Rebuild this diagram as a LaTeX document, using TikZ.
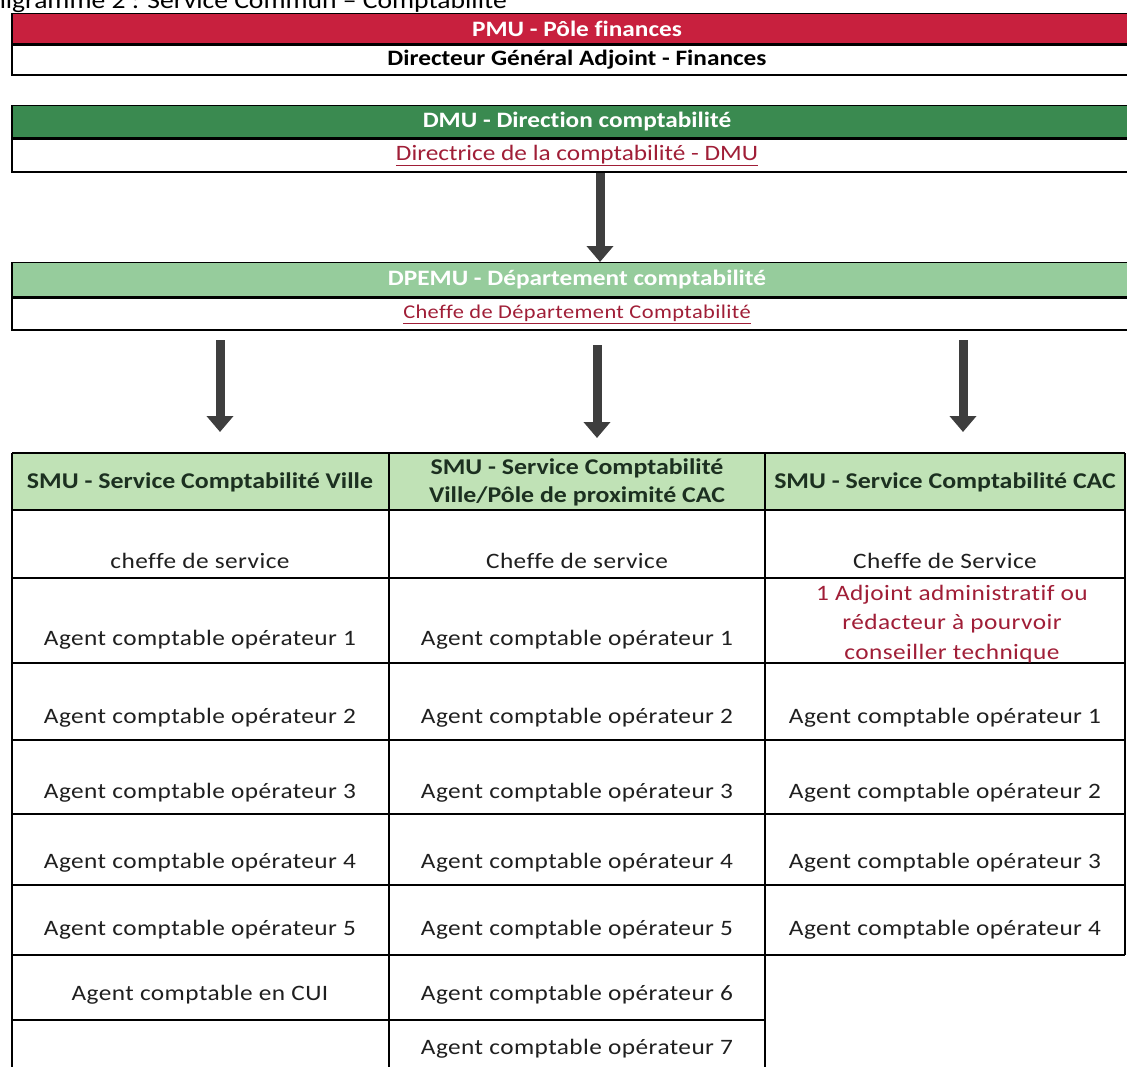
\documentclass[tikz,border=0pt]{standalone}
\usepackage{fontspec}
\setmainfont{Carlito}[FakeStretch=1.15, Ligatures=CommonOff]
\newfontfamily\espacee{Carlito}[FakeStretch=1.15, LetterSpace=2, Ligatures=CommonOff]
\usetikzlibrary{arrows.meta}

\definecolor{rougepmu}{RGB}{200,32,62}
\definecolor{vertdmu}{RGB}{58,138,80}
\definecolor{vertdpemu}{RGB}{150,204,156}
\definecolor{vertsmu}{RGB}{192,226,182}
\definecolor{rougetexte}{RGB}{160,30,55}
\definecolor{grisfleche}{RGB}{62,62,62}
\definecolor{texteentete}{RGB}{28,48,32}

\begin{document}
\begin{tikzpicture}[x=1pt, y=-1pt,
    barre/.style={draw=black, line width=1.4pt, minimum width=1130, inner sep=0pt, anchor=north},
    titrebarre/.style={font=\bfseries\fontsize{22}{24}\selectfont, text=white},
    responsable/.style={font=\fontsize{22}{24}\selectfont, text=rougetexte},
    fleche/.style={draw=grisfleche, line width=9pt, -{Triangle[width=26pt,length=16pt]}},
    entete/.style={font=\bfseries\fontsize{22.5}{28}\selectfont, text=texteentete, align=center},
    poste/.style={font=\espacee\fontsize{22}{24}\selectfont, text=black!88, anchor=base},
    posterouge/.style={font=\espacee\fontsize{22}{29.5}\selectfont, text=rougetexte, align=center}]

    \useasboundingbox (0,0) rectangle (1127,1066);
    \clip (0,0) rectangle (1127,1066);

    % Title of the page, cut at the top edge
    \node[anchor=base east, inner sep=0pt, font=\fontsize{24}{26}\selectfont] (titre) at (507,8)
        {Organigramme 2 : Service Commun – Comptabilité};

    % Pole finances
    \node[barre, fill=rougepmu, minimum height=30, titrebarre] (pmu) at (577,13) {PMU - Pôle finances};
    \node[barre, minimum height=30, font=\bfseries\fontsize{22}{24}\selectfont] (dga) at (pmu.south)
        {Directeur Général Adjoint - Finances};

    % Direction comptabilite
    \node[barre, fill=vertdmu, minimum height=32, titrebarre] (dmu) at (577,105) {DMU - Direction comptabilité};
    \node[barre, minimum height=33, responsable] (directrice) at (dmu.south)
        {\underline{Directrice de la comptabilité - DMU}};

    % Departement comptabilite
    \node[barre, fill=vertdpemu, minimum height=34, titrebarre] (dpemu) at (577,262) {DPEMU - Département comptabilité};
    \node[barre, minimum height=32, responsable, font=\espacee\fontsize{19.5}{22}\selectfont] (cheffedep) at (dpemu.south)
        {\underline{Cheffe de Département Comptabilité}};

    % Arrows
    \coordinate (f0) at (600,0);
    \draw[fleche] (directrice.south -| f0) -- (dpemu.north -| f0);

    \coordinate (f1h) at (220,340);  % left
    \coordinate (f1b) at (220,432);
    \coordinate (f2h) at (597,345);  % middle
    \coordinate (f2b) at (597,438);
    \coordinate (f3h) at (963,340);  % right
    \coordinate (f3b) at (963,432);
    \draw[fleche] (f1h) -- (f1b);
    \draw[fleche] (f2h) -- (f2b);
    \draw[fleche] (f3h) -- (f3b);

    % Table of the services: header row
    \fill[vertsmu] (12,453) rectangle (1125,510);
    \node[entete] (smu1) at (200,482) {SMU - Service Comptabilité Ville};
    \node[entete] (smu2) at (577,482) {SMU - Service Comptabilité\\Ville/Pôle de proximité CAC};
    \node[entete] (smu3) at (945,482) {SMU - Service Comptabilité CAC};

    % Table grid
    \draw[line width=1.4pt] (12,453) -- (1125,453);
    \draw[line width=1.4pt] (12,510) -- (1125,510);
    \draw[line width=1.4pt] (12,578) -- (1125,578);
    \draw[line width=1.4pt] (12,663) -- (1125,663);
    \draw[line width=1.4pt] (12,740) -- (1125,740);
    \draw[line width=1.4pt] (12,814) -- (1125,814);
    \draw[line width=1.4pt] (12,885) -- (1125,885);
    \draw[line width=1.4pt] (12,955) -- (1125,955);
    \draw[line width=1.4pt] (12,1020) -- (765,1020);
    \draw[line width=1.4pt] (12,453) -- (12,1070);
    \draw[line width=1.4pt] (389,453) -- (389,1070);
    \draw[line width=1.4pt] (765,453) -- (765,1070);
    \draw[line width=1.4pt] (1125,453) -- (1125,955);

    % Column 1
    \node[poste] (v0) at (200,568) {cheffe de service};
    \node[poste] (v1) at (200,645) {Agent comptable opérateur 1};
    \node[poste] (v2) at (200,723) {Agent comptable opérateur 2};
    \node[poste] (v3) at (200,798) {Agent comptable opérateur 3};
    \node[poste] (v4) at (200,868) {Agent comptable opérateur 4};
    \node[poste] (v5) at (200,935) {Agent comptable opérateur 5};
    \node[poste] (v6) at (200,1000) {Agent comptable en CUI};

    % Column 2
    \node[poste] (p0) at (577,568) {Cheffe de service};
    \node[poste] (p1) at (577,645) {Agent comptable opérateur 1};
    \node[poste] (p2) at (577,723) {Agent comptable opérateur 2};
    \node[poste] (p3) at (577,798) {Agent comptable opérateur 3};
    \node[poste] (p4) at (577,868) {Agent comptable opérateur 4};
    \node[poste] (p5) at (577,935) {Agent comptable opérateur 5};
    \node[poste] (p6) at (577,1000) {Agent comptable opérateur 6};
    \node[poste] (p7) at (577,1054) {Agent comptable opérateur 7};

    % Column 3
    \node[poste] (c0) at (945,568) {Cheffe de Service};
    \node[posterouge, anchor=base] (c1) at (952,659) {1 Adjoint administratif ou\\rédacteur à pourvoir\\conseiller technique};
    \node[poste] (c2) at (945,723) {Agent comptable opérateur 1};
    \node[poste] (c3) at (945,798) {Agent comptable opérateur 2};
    \node[poste] (c4) at (945,868) {Agent comptable opérateur 3};
    \node[poste] (c5) at (945,935) {Agent comptable opérateur 4};

\end{tikzpicture}
\end{document}
